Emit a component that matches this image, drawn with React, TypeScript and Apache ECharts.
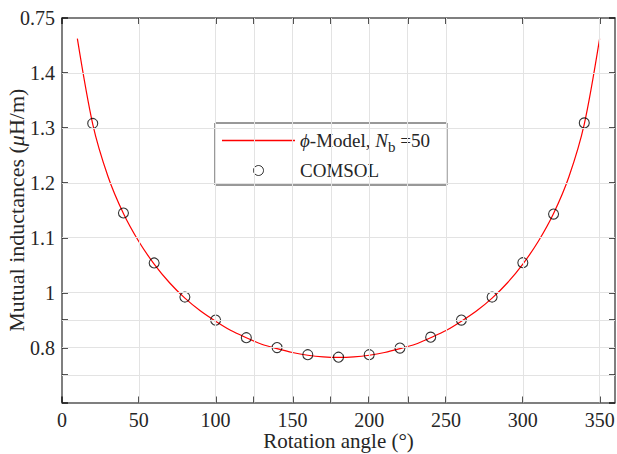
import React, { useEffect, useRef } from 'react';
import * as echarts from 'echarts';

// COMSOL reference points
const comsolAngles = [20, 40, 60, 80, 100, 120, 140, 160, 180, 200, 220, 240, 260, 280, 300, 320, 340];
const comsolValues = [1.308, 1.145, 1.054, 0.992, 0.95, 0.918, 0.9, 0.887, 0.8825, 0.887, 0.899, 0.919, 0.95, 0.992, 1.0545, 1.143, 1.309];

// phi-Model curve
const modelAngles = [10, 20, 30, 40, 50, 60, 70, 80, 90, 100, 110, 120, 130, 140, 150, 160, 170, 180,
  190, 200, 210, 220, 230, 240, 250, 260, 270, 280, 290, 300, 310, 320, 330, 340, 350];
const modelValues = [1.4625, 1.307, 1.211, 1.144, 1.093, 1.052, 1.018, 0.99, 0.967, 0.948, 0.931, 0.918, 0.906, 0.898, 0.891, 0.886, 0.883, 0.882,
  0.883, 0.886, 0.891, 0.898, 0.906, 0.918, 0.931, 0.948, 0.967, 0.99, 1.018, 1.052, 1.093, 1.144, 1.211, 1.307, 1.4625];

// Axis ticks, grid lines and labels (as printed on the reference)
const xTickValues = [0, 50, 100, 125, 150, 175, 200, 225, 250, 300, 350];
const xGridValues = [50, 100, 125, 150, 175, 200, 225, 250, 300, 350];
const xLabelValues = [0, 50, 100, 150, 200, 250, 300, 350];
const yTickValues = [0.8, 0.85, 0.9, 0.95, 1.0, 1.1, 1.2, 1.3, 1.4, 1.5];
const yGridValues = [0.85, 0.9, 0.95, 1.0, 1.1, 1.2, 1.3, 1.4];
const yLabelValues = [0.9, 1.0, 1.1, 1.2, 1.3, 1.4, 1.5];
const yLabelTexts = ['0.8', '1', '1.1', '1.2', '1.3', '1.4', '0.75'];

const FONT = 'Liberation Serif';
const TEXT = '#262626';
const AXIS = '#555555';
const TICK = '#1a1a1a';
const GRID = '#e3e3e3';

export default function App() {
  const ref = useRef<HTMLDivElement>(null);
  useEffect(() => {
    const chart = echarts.init(ref.current!, null, { renderer: 'svg' });
    const yFmt = (v: number) => {
      const i = yLabelValues.findIndex((t) => Math.abs(t - v) < 1e-6);
      return i >= 0 ? yLabelTexts[i] : '';
    };
    const option: any = {
      animation: false,
      backgroundColor: '#ffffff',
      textStyle: { fontFamily: FONT },
      grid: { left: 62, right: 2, top: 18, bottom: 51.5, containLabel: false, outerBoundsMode: 'none' },
      legend: {
        orient: 'vertical',
        left: 215,
        top: 123,
        padding: [8, 17, 5, 7],
        itemGap: 7,
        itemWidth: 73,
        itemHeight: 10,
        backgroundColor: '#ffffff',
        borderColor: '#333333',
        borderWidth: 1,
        borderRadius: 0,
        selectedMode: false,
        data: [
          { name: 'model', icon: 'path://M0,0 H73 V1.3 H0 Z', itemStyle: { color: '#ff0000', borderWidth: 0 } },
          { name: 'COMSOL', icon: 'circle', itemStyle: { color: 'rgba(0,0,0,0)', borderColor: '#000000', borderWidth: 1 } },
        ],
        formatter: (name: string) => (name === 'model' ? '{i|ϕ}-Model, {i|N}{sub|b} =50' : 'COMSOL'),
        textStyle: {
          fontFamily: FONT,
          fontSize: 19,
          color: TEXT,
          rich: {
            i: { fontFamily: FONT, fontSize: 19, fontStyle: 'italic', color: TEXT },
            sub: { fontFamily: FONT, fontSize: 15, color: TEXT, padding: [12, 0, 0, 0] },
          },
        },
      },
      xAxis: [
        {
          type: 'value',
          position: 'bottom',
          min: 0,
          max: 360,
          name: 'Rotation angle (°)',
          nameLocation: 'middle',
          nameGap: 28,
          nameMoveOverlap: false,
          nameTextStyle: { fontFamily: FONT, fontSize: 21, color: TEXT },
          axisLine: { show: true, onZero: false, lineStyle: { color: AXIS, width: 1.5 } },
          axisTick: { show: true, inside: true, length: 6, customValues: xTickValues, lineStyle: { color: TICK, width: 1.5 } },
          axisLabel: { show: true, customValues: xLabelValues, margin: 7, fontFamily: FONT, fontSize: 20, color: TEXT },
          splitLine: { show: false },
        },
        {
          type: 'value',
          position: 'top',
          min: 0,
          max: 360,
          axisLine: { show: true, onZero: false, lineStyle: { color: AXIS, width: 1.5 } },
          axisTick: { show: true, inside: true, length: 6, customValues: xTickValues, lineStyle: { color: TICK, width: 1.5 } },
          axisLabel: { show: false },
          splitLine: { show: false },
        },
      ],
      yAxis: [
        {
          type: 'value',
          position: 'left',
          min: 0.8,
          max: 1.5,
          name: 'Mutual inductances ({i|μ}H/m)',
          nameLocation: 'middle',
          nameGap: 35,
          nameMoveOverlap: false,
          nameTextStyle: {
            fontFamily: FONT,
            fontSize: 22,
            color: TEXT,
            rich: { i: { fontFamily: FONT, fontSize: 22, fontStyle: 'italic', color: TEXT } },
          },
          axisLine: { show: true, onZero: false, lineStyle: { color: AXIS, width: 1.5 } },
          axisTick: { show: true, inside: true, length: 6, customValues: yTickValues, lineStyle: { color: TICK, width: 1.5 } },
          axisLabel: { show: true, customValues: yLabelValues, formatter: yFmt, margin: 7, fontFamily: FONT, fontSize: 20, color: TEXT, showMinLabel: true, showMaxLabel: true },
          splitLine: { show: false },
        },
        {
          type: 'value',
          position: 'right',
          min: 0.8,
          max: 1.5,
          axisLine: { show: true, onZero: false, lineStyle: { color: AXIS, width: 1.5 } },
          axisTick: { show: true, inside: true, length: 6, customValues: yTickValues, lineStyle: { color: TICK, width: 1.5 } },
          axisLabel: { show: false },
          splitLine: { show: false },
        },
      ],
      series: [
        {
          name: 'gridlines',
          type: 'line',
          data: [],
          z: 1,
          silent: true,
          markLine: {
            silent: true,
            symbol: ['none', 'none'],
            label: { show: false },
            lineStyle: { color: GRID, width: 1, type: 'solid' },
            emphasis: { disabled: true },
            data: [
              ...xGridValues.map((v) => ({ xAxis: v })),
              ...yGridValues.map((v) => ({ yAxis: v })),
            ],
          },
        },
        {
          name: 'model',
          type: 'line',
          data: modelAngles.map((a, i) => [a, modelValues[i]]),
          showSymbol: false,
          symbol: 'none',
          smooth: 0.3,
          lineStyle: { color: '#ff0000', width: 1.2 },
          itemStyle: { color: '#ff0000' },
          z: 2,
        },
        {
          name: 'COMSOL',
          type: 'scatter',
          data: comsolAngles.map((a, i) => [a, comsolValues[i]]),
          symbol: 'circle',
          symbolSize: 10,
          itemStyle: { color: 'rgba(0,0,0,0)', borderColor: '#000000', borderWidth: 1.1 },
          z: 3,
        },
      ],
    };
    chart.setOption(option);
    return () => chart.dispose();
  }, []);
  return <div ref={ref} style={{ position: 'fixed', left: 0, top: 0, width: 617, height: 454 }} />;
}
